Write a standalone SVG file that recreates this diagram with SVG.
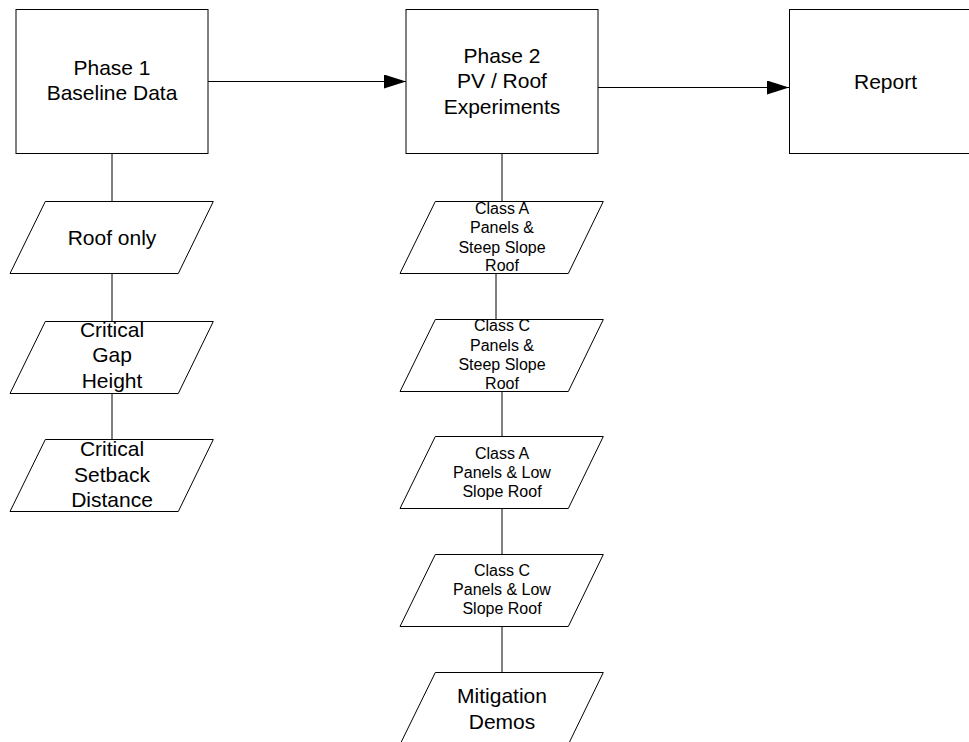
<svg xmlns="http://www.w3.org/2000/svg" xmlns:xlink="http://www.w3.org/1999/xlink" width="969" height="742" viewBox="0 0 969 742">
  <style>
    .box { fill: #ffffff; stroke: #000000; stroke-width: 1; }
    .para { fill: #ffffff; stroke: #000000; stroke-width: 1; }
    .conn { fill: none; stroke: #000000; stroke-width: 1; }
    .link { fill: none; stroke: #000000; stroke-width: 1; }
    .big { font-family: "Liberation Sans", Arial, sans-serif; font-size: 21px; fill: #000000; text-anchor: middle; }
    .small { font-family: "Liberation Sans", Arial, sans-serif; font-size: 16px; fill: #000000; text-anchor: middle; }
  </style>
  <defs>
    <marker id="arrow" viewBox="0 0 22 14" refX="22" refY="7" markerWidth="22" markerHeight="14" markerUnits="userSpaceOnUse" orient="auto">
      <path d="M0,0 L22,7 L0,14 Z" fill="#000000"/>
    </marker>
    <path id="pg" d="M35.3,0 H203.3 L168.3,72 H0 Z"/>
  </defs>
  <rect width="969" height="742" fill="#ffffff"/>

  <g id="connectors">
    <line class="conn" x1="208" y1="81.5" x2="406" y2="81.5" marker-end="url(#arrow)"/>
    <line class="conn" x1="598" y1="87.5" x2="789" y2="87.5" marker-end="url(#arrow)"/>
    <line class="link" x1="112" y1="153.5" x2="112" y2="201.5"/>
    <line class="link" x1="112" y1="273.5" x2="112" y2="321.5"/>
    <line class="link" x1="112" y1="393.5" x2="112" y2="439.5"/>
    <line class="link" x1="502" y1="153.5" x2="502" y2="201.5"/>
    <line class="link" x1="496" y1="273.5" x2="496" y2="319.5"/>
    <line class="link" x1="502" y1="391.5" x2="502" y2="436.5"/>
    <line class="link" x1="502" y1="508.5" x2="502" y2="554.5"/>
    <line class="link" x1="502" y1="626.5" x2="502" y2="672.5"/>
  </g>

  <g id="phase1">
    <rect class="box" x="16" y="9.5" width="192" height="144"/>
    <text class="big" x="112" y="75">Phase 1</text>
    <text class="big" x="112" y="100">Baseline Data</text>
  </g>

  <g id="phase2">
    <rect class="box" x="406" y="9.5" width="192" height="144"/>
    <text class="big" x="502" y="62.5">Phase 2</text>
    <text class="big" x="502" y="88">PV / Roof</text>
    <text class="big" x="502" y="113.5">Experiments</text>
  </g>

  <g id="report">
    <rect class="box" x="789.5" y="9.5" width="192" height="144"/>
    <text class="big" x="885.5" y="88.5">Report</text>
  </g>

  <g id="roof-only">
    <use xlink:href="#pg" class="para" x="10" y="201.5"/>
    <text class="big" x="112" y="245">Roof only</text>
  </g>

  <g id="critical-gap-height">
    <use xlink:href="#pg" class="para" x="10" y="321.5"/>
    <text class="big" x="112" y="337">Critical</text>
    <text class="big" x="112" y="362.3">Gap</text>
    <text class="big" x="112" y="387.6">Height</text>
  </g>

  <g id="critical-setback-distance">
    <use xlink:href="#pg" class="para" x="10" y="439.5"/>
    <text class="big" x="112" y="456">Critical</text>
    <text class="big" x="112" y="481.5">Setback</text>
    <text class="big" x="112" y="507">Distance</text>
  </g>

  <g id="class-a-steep">
    <use xlink:href="#pg" class="para" x="400" y="201.5"/>
    <text class="small" x="502" y="214">Class A</text>
    <text class="small" x="502" y="233.3">Panels &amp;</text>
    <text class="small" x="502" y="252.6">Steep Slope</text>
    <text class="small" x="502" y="271">Roof</text>
  </g>

  <g id="class-c-steep">
    <use xlink:href="#pg" class="para" x="400" y="319.5"/>
    <text class="small" x="502" y="331">Class C</text>
    <text class="small" x="502" y="350.6">Panels &amp;</text>
    <text class="small" x="502" y="370">Steep Slope</text>
    <text class="small" x="502" y="388.6">Roof</text>
  </g>

  <g id="class-a-low">
    <use xlink:href="#pg" class="para" x="400" y="436.5"/>
    <text class="small" x="502" y="458.5">Class A</text>
    <text class="small" x="502" y="478">Panels &amp; Low</text>
    <text class="small" x="502" y="497">Slope Roof</text>
  </g>

  <g id="class-c-low">
    <use xlink:href="#pg" class="para" x="400" y="554.5"/>
    <text class="small" x="502" y="576">Class C</text>
    <text class="small" x="502" y="595">Panels &amp; Low</text>
    <text class="small" x="502" y="614">Slope Roof</text>
  </g>

  <g id="mitigation-demos">
    <use xlink:href="#pg" class="para" x="400" y="672.5"/>
    <text class="big" x="502" y="703">Mitigation</text>
    <text class="big" x="502" y="728.5">Demos</text>
  </g>
</svg>
